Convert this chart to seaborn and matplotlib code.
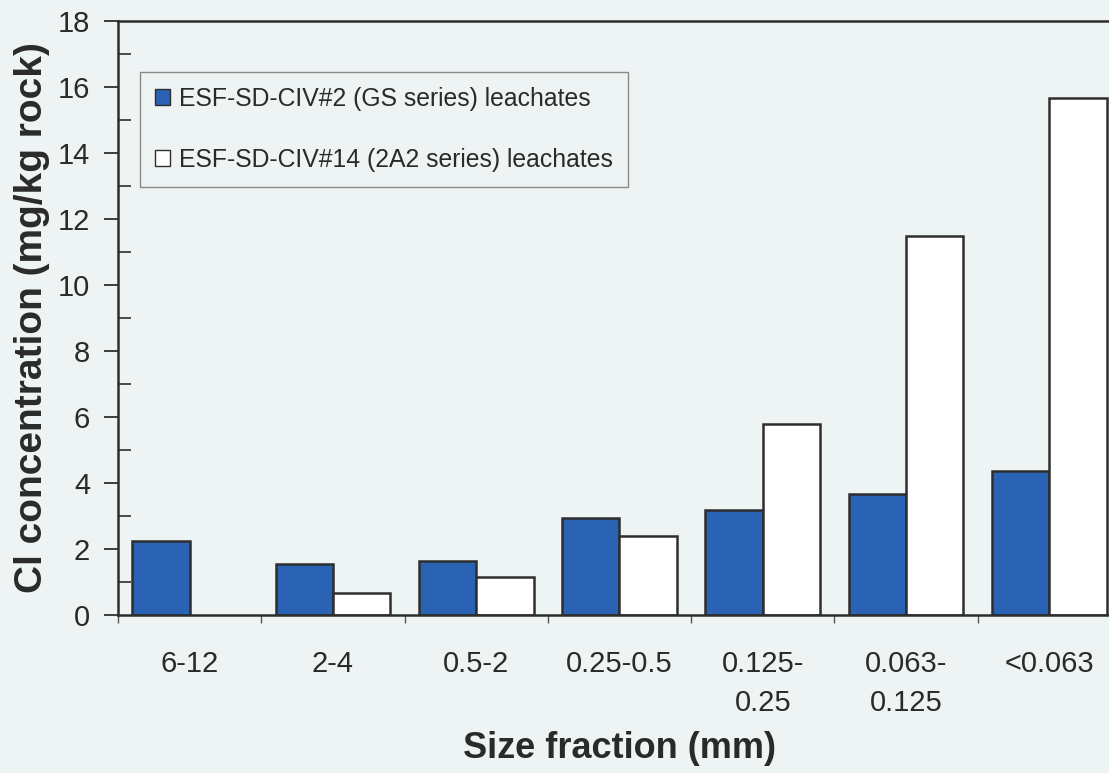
import numpy as np
import pandas as pd
import matplotlib
matplotlib.use("Agg")
import matplotlib.pyplot as plt
import seaborn as sns
from matplotlib.ticker import MultipleLocator, FixedLocator

categories = ["6-12", "2-4", "0.5-2", "0.25-0.5", "0.125-\n0.25", "0.063-\n0.125", "<0.063"]
series_names = ["ESF-SD-CIV#2 (GS series) leachates", "ESF-SD-CIV#14 (2A2 series) leachates"]
gs_values = [2.24, 1.54, 1.65, 2.93, 3.18, 3.68, 4.37]
a2_values = [np.nan, 0.66, 1.15, 2.40, 5.79, 11.5, 15.68]

df = pd.DataFrame({
    "cat": categories * 2,
    "series": [series_names[0]] * len(categories) + [series_names[1]] * len(categories),
    "value": gs_values + a2_values,
})

BG = "#eef3f3"
BLUE = "#2a63b3"
EDGE = "#2e2e2e"
TXT = "#2a2a2a"

sns.set_style("white")
plt.rcParams["font.family"] = ["Liberation Sans", "DejaVu Sans"]

fig = plt.figure(figsize=(11.09, 7.73), dpi=100, facecolor=BG)
ax = fig.add_axes([0.1064, 0.2044, 0.9044, 0.7684])
ax.set_facecolor(BG)

sns.barplot(data=df, x="cat", y="value", hue="series", order=categories,
            hue_order=series_names, palette=[BLUE, "white"], width=0.8,
            edgecolor=EDGE, linewidth=1.8, saturation=1, ax=ax, legend=True)

ax.set_xlim(-0.5, 6.5)
ax.set_ylim(0, 18)
ax.yaxis.set_major_locator(MultipleLocator(2))
ax.yaxis.set_minor_locator(MultipleLocator(1))
ax.xaxis.set_minor_locator(FixedLocator(np.arange(-0.5, 7.0, 1.0)))

ax.tick_params(axis="y", which="major", direction="out", length=10, width=1.3,
               color=EDGE, labelsize=21, labelcolor=TXT, pad=10, left=True)
ax.tick_params(axis="y", which="minor", direction="in", length=9, width=1.2,
               color=EDGE, left=True)
ax.tick_params(axis="x", which="major", length=0, labelsize=21, labelcolor=TXT, pad=25)
ax.tick_params(axis="x", which="minor", direction="out", length=6, width=1.0,
               color="#555555", bottom=True)
for lab in ax.get_xticklabels():
    lab.set_linespacing(1.5)
    lab.set_verticalalignment("top")

for side in ["left", "top", "bottom", "right"]:
    ax.spines[side].set_color(EDGE)
    ax.spines[side].set_linewidth(1.8)

ax.set_xlabel("Size fraction (mm)", fontsize=26, fontweight="bold", color=TXT, labelpad=10)
ax.set_ylabel("Cl concentration (mg/kg rock)", fontsize=28, fontweight="bold", color=TXT, labelpad=6)

leg = ax.legend(loc="upper left", bbox_to_anchor=(0.022, 0.915), fontsize=17.8,
                frameon=True, fancybox=False, edgecolor="#8a8a8a", facecolor=BG,
                framealpha=1, handlelength=0.6, handleheight=0.6, handletextpad=0.35,
                labelspacing=1.5, borderpad=0.62, borderaxespad=0, title=None)
leg.get_frame().set_linewidth(1.0)
for t in leg.get_texts():
    t.set_color(TXT)
for h in leg.legend_handles:
    h.set_linewidth(1.0)

fig.savefig("out.png", dpi=100, facecolor=BG)
